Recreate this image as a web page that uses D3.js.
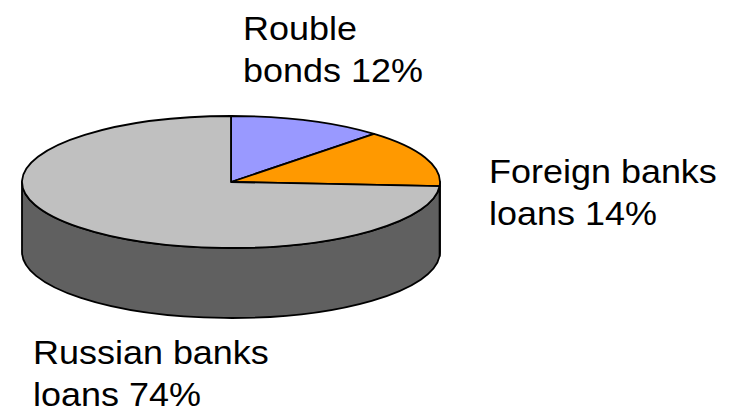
<!DOCTYPE html>
<html>
<head>
<meta charset="utf-8">
<script src="https://cdn.jsdelivr.net/npm/d3@7"></script>
<style>
  html, body { margin: 0; padding: 0; background: #fff; }
  svg { display: block; }
  text { font-family: "Liberation Sans", Arial, sans-serif; fill: #000; }
</style>
</head>
<body>
<svg id="chart" width="729" height="411"></svg>
<script>
// Structure of borrowing
const categories = ["Rouble bonds", "Foreign banks loans", "Russian banks loans"];
const shares = [12, 14, 74];
const topColors = ["#9999FF", "#FF9900", "#C0C0C0"];
const sideColors = ["#4c4c80", "#804c00", "#606060"];
const labelLines = [["Rouble", "bonds 12%"], ["Foreign banks", "loans 14%"], ["Russian banks", "loans 74%"]];

const svg = d3.select("#chart");
const cx = 231, cy = 182, rx = 209, ry = 66, depth = 70;

const pie = d3.pie().sort(null).value(d => d.value).startAngle(0).endAngle(2 * Math.PI);
const arcs = pie(categories.map((c, i) => ({ name: c, value: shares[i], i })));

// point on the tilted rim, angle measured clockwise from 12 o'clock
const pt = (a, dy = 0) => [cx + rx * Math.sin(a), cy - ry * Math.cos(a) + dy];

// visible side walls (front half: 90deg..270deg)
const sideG = svg.append("g");
arcs.forEach(d => {
  const a0 = Math.max(d.startAngle, Math.PI / 2);
  const a1 = Math.min(d.endAngle, 3 * Math.PI / 2);
  if (a1 <= a0) return;
  const p0 = pt(a0), p1 = pt(a1), q1 = pt(a1, depth), q0 = pt(a0, depth);
  const path = `M${p0}A${rx},${ry} 0 0 1 ${p1}L${q1}A${rx},${ry} 0 0 0 ${q0}Z`;
  sideG.append("path")
    .attr("d", path)
    .attr("fill", sideColors[d.data.i])
    .attr("stroke", "#000")
    .attr("stroke-width", 1.8)
    .attr("stroke-linejoin", "round");
});

// top faces
const topG = svg.append("g");
arcs.forEach(d => {
  const p0 = pt(d.startAngle), p1 = pt(d.endAngle);
  const large = (d.endAngle - d.startAngle) > Math.PI ? 1 : 0;
  const path = `M${cx},${cy}L${p0}A${rx},${ry} 0 ${large} 1 ${p1}Z`;
  topG.append("path")
    .attr("d", path)
    .attr("fill", topColors[d.data.i])
    .attr("stroke", "#000")
    .attr("stroke-width", 1.8)
    .attr("stroke-linejoin", "round");
});

// slice labels
const labelPos = [[243, 40], [489, 183], [33, 364]];
const lineGap = 42;
labelLines.forEach((lines, i) => {
  const [x, y] = labelPos[i];
  const t = svg.append("text")
    .attr("transform", `translate(${x},${y}) scale(1.09,1)`)
    .attr("font-size", 33);
  lines.forEach((s, k) => {
    t.append("tspan").attr("x", 0).attr("y", k * lineGap).text(s);
  });
});
</script>
</body>
</html>
